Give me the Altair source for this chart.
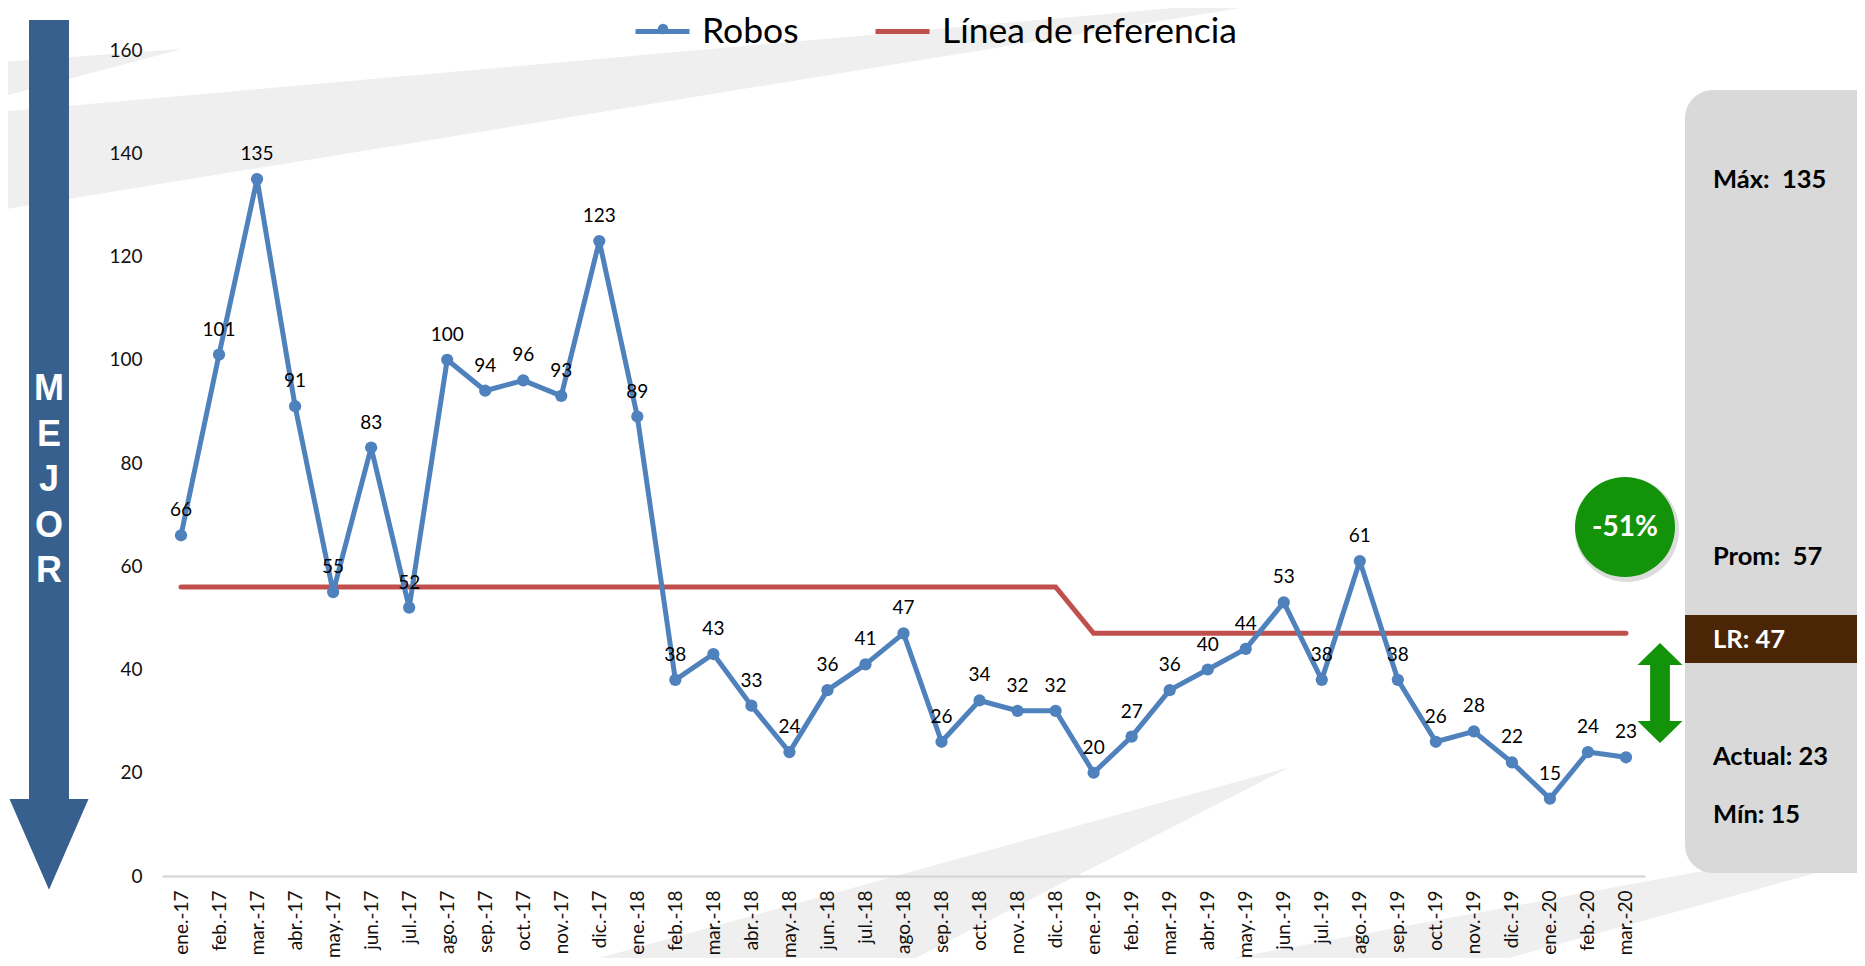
import altair as alt
import pandas as pd

# ---------------- data ----------------
months = ["ene.-17", "feb.-17", "mar.-17", "abr.-17", "may.-17", "jun.-17", "jul.-17", "ago.-17",
          "sep.-17", "oct.-17", "nov.-17", "dic.-17",
          "ene.-18", "feb.-18", "mar.-18", "abr.-18", "may.-18", "jun.-18", "jul.-18", "ago.-18",
          "sep.-18", "oct.-18", "nov.-18", "dic.-18",
          "ene.-19", "feb.-19", "mar.-19", "abr.-19", "may.-19", "jun.-19", "jul.-19", "ago.-19",
          "sep.-19", "oct.-19", "nov.-19", "dic.-19",
          "ene.-20", "feb.-20", "mar.-20"]
robos = [66, 101, 135, 91, 55, 83, 52, 100, 94, 96, 93, 123,
         89, 38, 43, 33, 24, 36, 41, 47, 26, 34, 32, 32,
         20, 27, 36, 40, 44, 53, 38, 61, 38, 26, 28, 22,
         15, 24, 23]
referencia = [56, 56, 56, 56, 56, 56, 56, 56, 56, 56, 56, 56,
              56, 56, 56, 56, 56, 56, 56, 56, 56, 56, 56, 56,
              47, 47, 47, 47, 47, 47, 47, 47, 47, 47, 47, 47,
              47, 47, 47]
series_names = ["Robos", "Línea de referencia"]
y_ticks = [0, 20, 40, 60, 80, 100, 120, 140, 160]
promedio = 57
lr_value = referencia[-1]

maximo = max(robos)
minimo = min(robos)
actual = robos[-1]
cambio = round((actual - lr_value) / lr_value * 100)

BLUE = "#4f81bd"
RED = "#c0504d"
GREEN = "#129309"
ARROW_BLUE = "#38608f"
PANEL = "#d9d9d9"
BROWN = "#4a2506"
SWOOSH = "#efefef"

df_robos = pd.DataFrame({"mes": months, "valor": robos, "serie": series_names[0]})
df_ref = pd.DataFrame({"mes": months, "valor": referencia, "serie": series_names[1]})
one = pd.DataFrame({"k": [0]})

W, H = 1483, 826

x_enc = alt.X("mes:N", sort=months, scale=alt.Scale(domain=months),
              axis=alt.Axis(title=None, labelAngle=-90, labelFont="Lato", labelFontSize=19,
                            labelColor="#111111", labelPadding=14, ticks=False,
                            domainColor="#d9d9d9", domainWidth=2.5, grid=False, zindex=1))
y_enc = alt.Y("valor:Q", scale=alt.Scale(domain=[0, 160], nice=False),
              axis=alt.Axis(title=None, values=y_ticks, ticks=False, domain=False, grid=False,
                            labelFont="Lato", labelFontSize=19, labelPadding=20,
                            labelColor="#111111", zindex=1))
color_enc = alt.Color("serie:N",
                      scale=alt.Scale(domain=series_names, range=[BLUE, RED]),
                      legend=alt.Legend(orient="none", legendX=471, legendY=-48,
                                        direction="horizontal", title=None,
                                        symbolType="stroke", symbolStrokeWidth=5,
                                        symbolSize=2916, labelFont="Lato", labelFontSize=35.5,
                                        labelColor="#000000", labelOffset=10, labelLimit=800,
                                        columnPadding=66, padding=0))

# ---------------- background decoration (page coordinates, origin shifted) ----------------
def page_shape(path, color):
    return alt.Chart(one).mark_point(shape=path, size=4, filled=True, color=color,
                                     opacity=1, strokeWidth=0).encode(
        x=alt.value(-162), y=alt.value(-50))

swooshes = [
    page_shape("M 0 62 L 182 49 L 0 97 Z", SWOOSH),
    page_shape("M 0 112 L 1320 -5 L 0 210 Z", SWOOSH),
    page_shape("M 570 966 L 1290 767 L 900 966 Z", SWOOSH),
    page_shape("M 1190 966 L 1870 840 L 1870 858 L 1480 966 Z", SWOOSH),
]

panel = alt.Chart(one).mark_rect(color=PANEL, cornerRadius=28).encode(
    x=alt.value(1523), x2=alt.value(1740), y=alt.value(40), y2=alt.value(823))
band = alt.Chart(one).mark_rect(color=BROWN).encode(
    x=alt.value(1523), x2=alt.value(1740), y=alt.value(565), y2=alt.value(613))

# ---------------- data layers ----------------
ref_line = alt.Chart(df_ref).mark_line(strokeWidth=5, strokeCap="round").encode(
    x=x_enc, y=y_enc, color=color_enc)
robos_line = alt.Chart(df_robos).mark_line(strokeWidth=5, strokeJoin="round").encode(
    x=x_enc, y=y_enc, color=color_enc)
robos_pts = alt.Chart(df_robos).mark_circle(size=150, color=BLUE, opacity=1).encode(
    x=x_enc, y=y_enc)
robos_lbl = alt.Chart(df_robos).mark_text(dy=-19, baseline="alphabetic", font="Lato",
                                          fontSize=19, color="#000000").encode(
    x=x_enc, y=y_enc, text="valor:Q")

# legend dot for "Robos"
legend_dot = alt.Chart(one).mark_circle(size=110, color=BLUE, opacity=1).encode(
    x=alt.value(501), y=alt.value(-21))

# ---------------- left arrow "MEJOR" ----------------
left_arrow = alt.Chart(one).mark_point(
    shape="M -0.506 -19.72 L 0.506 -19.72 L 0.506 0 L 1 0 L 0 2.3 L -1 0 L -0.506 0 Z",
    size=6241, filled=True, color=ARROW_BLUE, opacity=1, strokeWidth=0).encode(
    x=alt.value(-113), y=alt.value(749))
mejor = alt.Chart(one).mark_text(text=["M", "E", "J", "O", "R"], lineHeight=45.5,
                                 font="Liberation Sans", fontWeight="bold", fontSize=36,
                                 color="white", baseline="top", align="center").encode(
    x=alt.value(-113), y=alt.value(322))

# ---------------- right side indicators ----------------
shadow = alt.Chart(one).mark_circle(size=10800, color="#9a9a9a", opacity=0.35).encode(
    x=alt.value(1465), y=alt.value(480))
circle = alt.Chart(one).mark_circle(size=10000, color=GREEN, opacity=1).encode(
    x=alt.value(1463), y=alt.value(477))
circle_txt = alt.Chart(one).mark_text(text=f"{cambio}%", font="Lato", fontWeight="bold",
                                      fontSize=28, color="white", align="center",
                                      baseline="middle").encode(
    x=alt.value(1463), y=alt.value(478))
double_arrow = alt.Chart(one).mark_point(
    shape="M 0 -2.22 L 1 -1.24 L 0.44 -1.24 L 0.44 1.24 L 1 1.24 L 0 2.22 L -1 1.24 "
          "L -0.44 1.24 L -0.44 -1.24 L -1 -1.24 Z",
    size=2025, filled=True, color=GREEN, opacity=1, strokeWidth=0).encode(
    x=alt.value(1498), y=alt.value(643))

def panel_text(txt, y, color="#000000"):
    return alt.Chart(one).mark_text(text=txt, font="Lato", fontWeight="bold", fontSize=25.5,
                                    color=color, align="left", baseline="middle").encode(
        x=alt.value(1551), y=alt.value(y))

NB = "\u00a0"
texts = [
    panel_text(f"Máx:{NB}{NB}{maximo}", 130),
    panel_text(f"Prom:{NB}{NB}{promedio}", 507),
    panel_text(f"LR: {lr_value}", 590, "white"),
    panel_text(f"Actual: {actual}", 707),
    panel_text(f"Mín: {minimo}", 765),
]

chart = alt.layer(
    *swooshes, panel, band,
    ref_line, robos_line, robos_pts, robos_lbl, legend_dot,
    left_arrow, mejor, shadow, circle, circle_txt, double_arrow, *texts
).properties(
    width=W, height=H,
    autosize=alt.AutoSizeParams(type="none"),
    padding={"left": 154, "top": 42, "right": 212, "bottom": 82},
    background="white",
).configure_view(stroke=None)

chart.save("out.html", embed_options={"renderer": "svg", "actions": False})
